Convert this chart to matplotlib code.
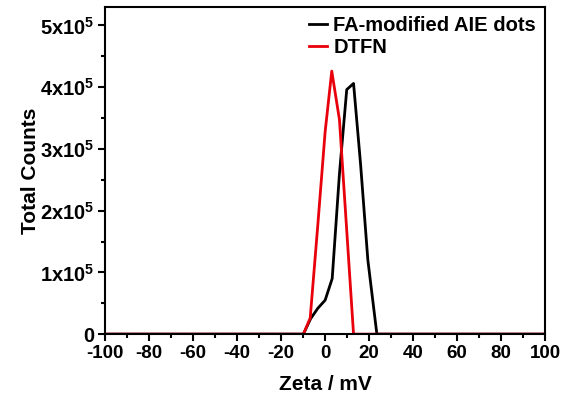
import matplotlib

matplotlib.use("Agg")
import matplotlib.pyplot as plt
from matplotlib.ticker import MultipleLocator, FuncFormatter

plt.rcParams["font.family"] = ["Liberation Sans", "DejaVu Sans"]
plt.rcParams["font.weight"] = "bold"
plt.rcParams["axes.unicode_minus"] = False
plt.rcParams["mathtext.fontset"] = "custom"
plt.rcParams["mathtext.bf"] = "Liberation Sans:bold"
plt.rcParams["mathtext.rm"] = "Liberation Sans:bold"
plt.rcParams["mathtext.default"] = "bf"

# zeta potential distributions (mV vs total counts)
zeta_fa = [-100, -9.9, -6.6, -3.3, 0.0, 3.2, 6.5, 9.8, 12.9, 16.1, 19.4, 23.5, 100]
counts_fa = [0, 0, 0.25e5, 0.42e5, 0.55e5, 0.9e5, 2.6e5, 3.96e5, 4.06e5, 2.75e5, 1.2e5, 0, 0]

zeta_dtfn = [-100, -9.9, -6.8, -3.4, 0.0, 3.0, 6.5, 12.9, 100]
counts_dtfn = [0, 0, 0.26e5, 1.74e5, 3.28e5, 4.26e5, 3.47e5, 0, 0]

fig = plt.figure(figsize=(5.65, 4.05), dpi=100)
ax = fig.add_axes([0.186, 0.175, 0.779, 0.808])

ax.plot(zeta_fa, counts_fa, color="black", lw=2, label="FA-modified AIE dots")
ax.plot(zeta_dtfn, counts_dtfn, color="#e8000b", lw=2, label="DTFN")

ax.set_xlim(-100, 100)
ax.set_ylim(0, 5.3e5)
ax.xaxis.set_major_locator(MultipleLocator(20))
ax.xaxis.set_minor_locator(MultipleLocator(10))
ax.yaxis.set_major_locator(MultipleLocator(1e5))
ax.yaxis.set_minor_locator(MultipleLocator(0.5e5))


def sci(v, pos):
    n = int(round(v / 1e5))
    return "0" if n == 0 else f"{n}x10$^{{5}}$"


ax.yaxis.set_major_formatter(FuncFormatter(sci))
ax.tick_params(which="both", direction="out", width=1.5, pad=3)
ax.tick_params(axis="x", labelsize=13.5)
ax.tick_params(axis="y", labelsize=14.5)
ax.tick_params(which="major", length=5)
ax.tick_params(which="minor", length=3)
for s in ax.spines.values():
    s.set_linewidth(1.5)

ax.set_xlabel("Zeta / mV", fontsize=15, fontweight="bold", labelpad=9)
ax.set_ylabel("Total Counts", fontsize=15, fontweight="bold", labelpad=0)

ax.legend(loc="upper right", frameon=False, fontsize=14.5, handlelength=0.9,
          handletextpad=0.3, borderaxespad=0.05, labelspacing=0.15)

fig.savefig("out.png", dpi=100)
